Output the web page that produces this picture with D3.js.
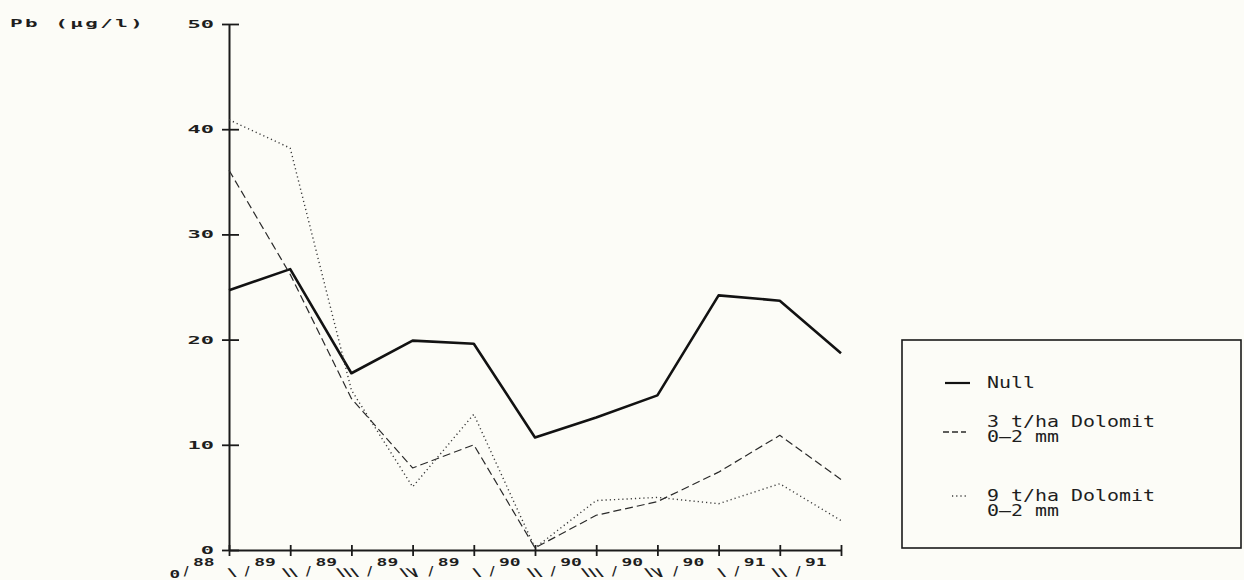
<!DOCTYPE html>
<html>
<head>
<meta charset="utf-8">
<script src="https://cdn.jsdelivr.net/npm/d3@7"></script>
<style>
  html, body { margin: 0; padding: 0; background: #fcfcf7; }
  svg { display: block; }
  text { fill: #1e1e1e; }
</style>
</head>
<body>
<div id="chart"></div>
<script>
// ---- data ----
const categories = ["0/88","I/89","II/89","III/89","IV/89","I/90","II/90","III/90","IV/90","I/91","II/91"];
const seriesNames = ["Null", "3 t/ha Dolomit", "9 t/ha Dolomit"];
const seriesSub = ["", "0—2 mm", "0—2 mm"];
const nullValues = [24.7, 26.7, 16.8, 19.9, 19.6, 10.7, 12.6, 14.7, 24.2, 23.7, 18.7];
const dol3Values = [36.1, 26.2, 14.4, 7.8, 10.0, 0.2, 3.3, 4.6, 7.4, 10.9, 6.7];
const dol9Values = [40.9, 38.2, 15.2, 6.0, 12.9, 0.2, 4.7, 5.0, 4.4, 6.3, 2.8];
const yTicks = [0, 10, 20, 30, 40, 50];
const yTitle = "Pb (μg/l)";

// ---- layout ----
const W = 1244, H = 580;
const svg = d3.select("#chart").append("svg").attr("width", W).attr("height", H);
svg.append("rect").attr("width", W).attr("height", H).attr("fill", "#fcfcf7");

const x = d3.scalePoint().domain(categories).range([229, 841]);
const y = d3.scaleLinear().domain([0, 50]).range([550, 24]);

const MONO = "'DejaVu Sans Mono', 'Liberation Mono', monospace";
const SANS = "'DejaVu Sans', 'Liberation Sans', sans-serif";

function wideText(g, px, py, str, o) {
  return g.append("text")
    .attr("transform", `translate(${px},${py}) scale(${o.sx},1)`)
    .attr("text-anchor", o.anchor || "start")
    .style("font-family", o.family || MONO)
    .style("font-weight", o.weight || "normal")
    .style("font-size", o.size + "px")
    .style("letter-spacing", (o.ls || 0) + "px")
    .text(str);
}

// ---- axes ----
const yAxis = d3.axisLeft(y).tickValues(yTicks).tickSize(0).tickFormat("");
const gy = svg.append("g").attr("transform", "translate(229,0)").call(yAxis);
gy.select(".domain").attr("stroke", "#1a1a1a").attr("stroke-width", 2);
gy.selectAll(".tick line").attr("x1", -7).attr("x2", 10).attr("stroke", "#1a1a1a").attr("stroke-width", 1.8);
gy.selectAll(".tick").each(function(d) {
  wideText(svg, 214, y(d) + 4, String(d), { sx: 2.1, size: 10.5, anchor: "end", weight: "bold" });
});

const xAxis = d3.axisBottom(x).tickSize(0).tickFormat("");
const gx = svg.append("g").attr("transform", "translate(0,550)").call(xAxis);
gx.select(".domain").attr("stroke", "#1a1a1a").attr("stroke-width", 2);
gx.selectAll(".tick line").attr("y1", -5).attr("y2", 6).attr("stroke", "#1a1a1a").attr("stroke-width", 1.8);

// x tick labels: slanted roman numeral, slash, raised year
categories.forEach(c => {
  const tx = x(c);
  const [roman, year] = c.split("/");
  wideText(svg, tx - 36, 566, year, { sx: 1.8, size: 10, weight: "bold" });
  svg.append("text").attr("x", tx - 43).attr("y", 575).attr("text-anchor", "middle")
    .style("font-family", SANS).style("font-size", "13px").style("font-weight", "bold").text("/");
  if (roman === "0") {
    wideText(svg, tx - 49, 578, "0", { sx: 1.6, size: 11, anchor: "end", weight: "bold" });
  } else {
    svg.append("text")
      .attr("transform", `translate(${tx - 50},577) skewX(38)`)
      .attr("text-anchor", "end")
      .style("font-family", SANS).style("font-size", "12px")
      .style("font-weight", "bold")
      .style("letter-spacing", "2.5px")
      .text(roman);
  }
});

// y title
wideText(svg, 10, 27, yTitle, { sx: 1.9, size: 11, ls: 1.3, weight: "bold" });

// ---- lines ----
const line = d3.line().x((d, i) => x(categories[i])).y(d => y(d));
const styles = [
  { values: nullValues, width: 2.6, dash: null, color: "#121212" },
  { values: dol3Values, width: 1.2, dash: "8,4", color: "#2a2a2a" },
  { values: dol9Values, width: 1.4, dash: "1.2,3", color: "#3a3a3a" }
];
styles.forEach(s => {
  svg.append("path").datum(s.values)
    .attr("d", line)
    .attr("fill", "none")
    .attr("stroke", s.color)
    .attr("stroke-width", s.width)
    .attr("stroke-linejoin", "round")
    .attr("stroke-dasharray", s.dash);
});

// ---- legend ----
const lg = svg.append("g");
lg.append("rect").attr("x", 902).attr("y", 340).attr("width", 339).attr("height", 208)
  .attr("fill", "none").attr("stroke", "#1a1a1a").attr("stroke-width", 1.6);
const legendRows = [
  { y: 383, base: 388, x1: 945, x2: 970 },
  { y: 432, base: 427, x1: 943, x2: 966 },
  { y: 496, base: 501, x1: 952, x2: 966 }
];
legendRows.forEach((r, i) => {
  const s = styles[i];
  lg.append("line").attr("x1", r.x1).attr("x2", r.x2).attr("y1", r.y).attr("y2", r.y)
    .attr("stroke", s.color).attr("stroke-width", i === 0 ? 2.2 : 1.3)
    .attr("stroke-dasharray", i === 0 ? null : (i === 1 ? "6,3" : "1.2,3"));
  wideText(lg, 987, r.base, seriesNames[i], { sx: 1.33, size: 15 });
  if (seriesSub[i]) wideText(lg, 987, r.base + 15, seriesSub[i], { sx: 1.33, size: 15 });
});
</script>
</body>
</html>
